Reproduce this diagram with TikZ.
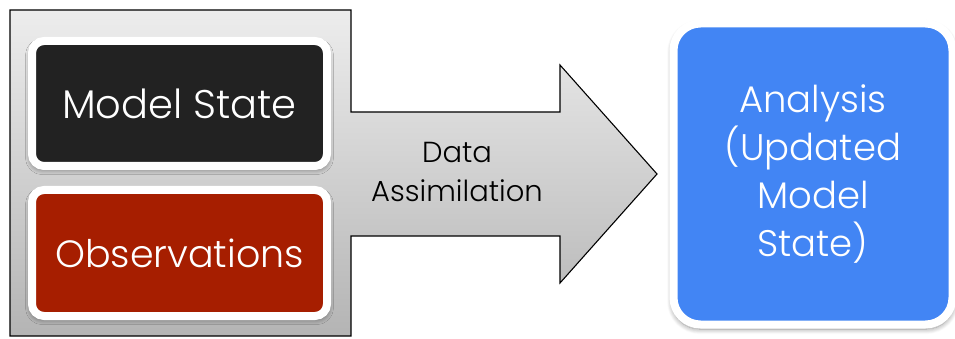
\documentclass[tikz,border=0pt]{standalone}
\usepackage{fontspec}
\setmainfont{Poppins}[UprightFont=* Light]
\usetikzlibrary{shadows.blur}
\definecolor{darkbox}{HTML}{222222}
\definecolor{redbox}{HTML}{A61E00}
\definecolor{bluebox}{HTML}{4285F4}
\definecolor{gtop}{HTML}{EDEDED}
\definecolor{gbot}{HTML}{B4B4B4}
\tikzset{
  card/.style={rectangle, rounded corners=12pt, draw=white, line width=8pt,
    text=white, align=center, inner sep=0pt,
    blur shadow={shadow xshift=0pt, shadow yshift=-3pt, shadow scale=1.01, shadow blur radius=5pt, shadow blur steps=8, shadow opacity=45}},
  flowshape/.style={draw=black, line width=1.1pt, top color=gtop, bottom color=gbot},
  lbl/.style={align=center, text=black, inner sep=0pt}
}
\begin{document}
\begin{tikzpicture}[x=1pt,y=-1pt]
\useasboundingbox (0,0) rectangle (955,339);
% combined frame and arrow
\path[flowshape] (10,10) -- (351,10) -- (351,112) -- (560,112) -- (560,65)
  -- (657,174) -- (560,283) -- (560,236) -- (351,236) -- (351,336) -- (10,336) -- cycle;
\node[card, fill=darkbox, minimum width=295pt, minimum height=125pt,
  font=\fontsize{40}{46}\selectfont] (model) at (179.5,103.5) {Model State};
\node[card, fill=redbox, minimum width=295pt, minimum height=126pt,
  font=\fontsize{38}{46}\selectfont] (obs) at (179.5,253) {Observations};
\node[lbl, font=\fontsize{29}{39}\selectfont] (da) at (457,172) {Data\\Assimilation};
\node[card, rounded corners=27pt, fill=bluebox, minimum width=279pt, minimum height=301pt,
  font=\fontsize{37}{48}\selectfont] (ana) at (813,174) {Analysis\\(Updated\\Model\\State)};
\end{tikzpicture}
\end{document}
